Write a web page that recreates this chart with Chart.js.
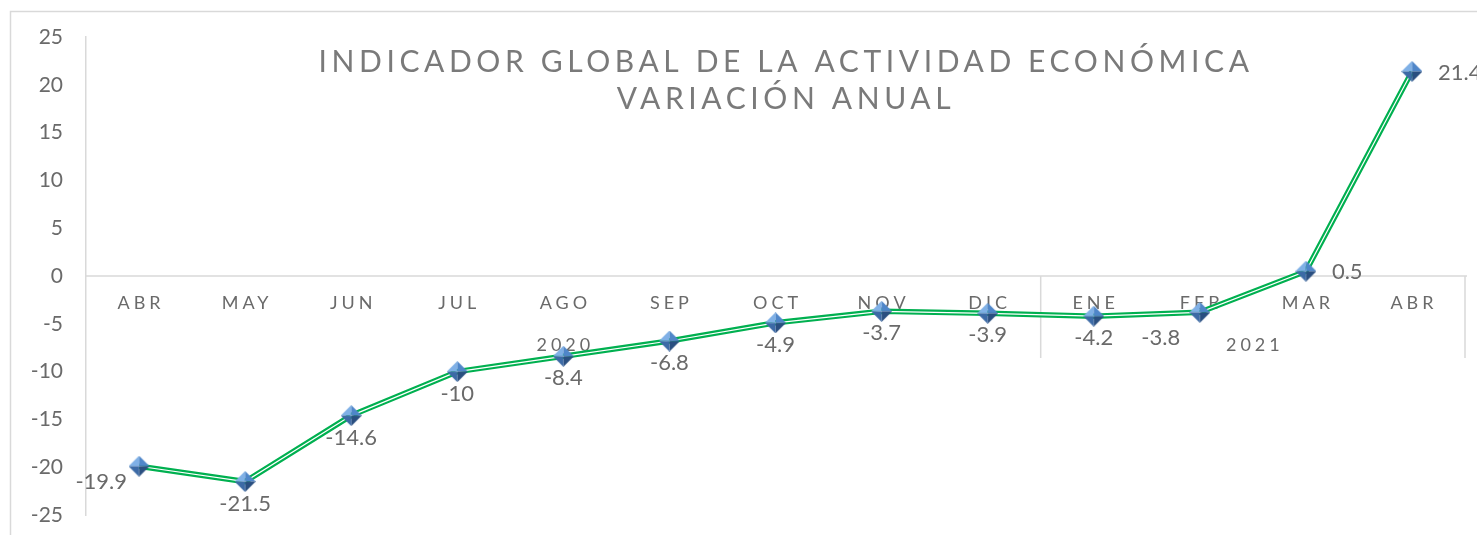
<!DOCTYPE html>
<html>
<head>
<meta charset="utf-8">
<script src="https://cdn.jsdelivr.net/npm/chart.js@4.4.1/dist/chart.umd.min.js"></script>
<style>
  html, body { margin: 0; padding: 0; background: #fff; }
  #wrap { width: 1477px; height: 535px; }
</style>
</head>
<body>
<div id="wrap"><canvas id="chart" width="1477" height="535"></canvas></div>
<script>
// data
const months = ['ABR', 'MAY', 'JUN', 'JUL', 'AGO', 'SEP', 'OCT', 'NOV', 'DIC', 'ENE', 'FEB', 'MAR', 'ABR'];
const years = ['2020', '2021'];
const yearSpans = [9, 4]; // months in each year group
const values = [-19.9, -21.5, -14.6, -10, -8.4, -6.8, -4.9, -3.7, -3.9, -4.2, -3.8, 0.5, 21.4];
const titleLines = ['INDICADOR GLOBAL DE LA ACTIVIDAD ECONÓMICA', 'VARIACIÓN ANUAL'];

const GRAY = '#6a6a6a';
const AXIS = '#d9d9d9';

// bevelled blue diamond marker
function makeDiamond(size) {
    const c = document.createElement('canvas');
    c.width = size; c.height = size;
    const g = c.getContext('2d');
    const m = size / 2;
    const tri = (x1, y1, x2, y2, col) => {
        g.beginPath();
        g.moveTo(m, m); g.lineTo(x1, y1); g.lineTo(x2, y2); g.closePath();
        g.fillStyle = col; g.fill();
    };
    tri(0, m, m, 0, '#7fb0e6');       // top-left
    tri(m, 0, size, m, '#4f86c9');    // top-right
    tri(size, m, m, size, '#2a4f80'); // bottom-right
    tri(m, size, 0, m, '#3c6aa6');    // bottom-left
    return c;
}
const diamond = makeDiamond(21);

// label placement per point (Excel style)
const labelPlace = ['left', 'below', 'below', 'below', 'below', 'below', 'below', 'below', 'below', 'below', 'leftbelow', 'right', 'right'];

const decorPlugin = {
    id: 'decor',
    beforeDraw(chart) {
        const ctx = chart.ctx;
        ctx.save();
        ctx.strokeStyle = AXIS;
        ctx.lineWidth = 1.5;
        ctx.strokeRect(10.5, 11.5, 1500, 600);
        ctx.restore();
    },
    beforeDatasetsDraw(chart) {
        const ctx = chart.ctx;
        const x = chart.scales.x, y = chart.scales.y;
        const y0 = y.getPixelForValue(0);
        const area = chart.chartArea;
        const step = x.getPixelForValue(1) - x.getPixelForValue(0);
        ctx.save();
        // category axis line
        ctx.strokeStyle = AXIS;
        ctx.lineWidth = 1.5;
        ctx.beginPath();
        ctx.moveTo(area.left, y0); ctx.lineTo(area.right + 2, y0);
        // group separators
        let idx = 0;
        yearSpans.forEach(span => {
            idx += span;
            const sx = x.getPixelForValue(idx - 1) + step / 2;
            ctx.moveTo(sx, y0); ctx.lineTo(sx, y0 + 82);
        });
        ctx.stroke();

        // month labels
        ctx.fillStyle = GRAY;
        ctx.textAlign = 'center';
        ctx.textBaseline = 'middle';
        ctx.font = '18px Lato';
        ctx.letterSpacing = '4px';
        months.forEach((m, i) => {
            ctx.fillText(m, x.getPixelForValue(i) + 2, y0 + 27);
        });
        // year labels
        ctx.font = '18px Lato';
        ctx.letterSpacing = '4px';
        let start = 0;
        years.forEach((yr, k) => {
            const end = start + yearSpans[k] - 1;
            const cx = (x.getPixelForValue(start) + x.getPixelForValue(end)) / 2;
            ctx.fillText(yr, cx + 2, y0 + 69);
            start = end + 1;
        });

        // title
        ctx.font = '30px Lato';
        ctx.letterSpacing = '4.6px';
        ctx.fillStyle = '#7a7a7a';
        ctx.fillText(titleLines[0], 786, 62);
        ctx.fillText(titleLines[1], 786, 99);
        ctx.restore();
    },
    afterDatasetsDraw(chart) {
        const ctx = chart.ctx;
        const meta = chart.getDatasetMeta(2);
        ctx.save();
        ctx.fillStyle = GRAY;
        ctx.font = '22px Lato';
        ctx.textBaseline = 'middle';
        meta.data.forEach((pt, i) => {
            const txt = String(values[i]);
            const p = labelPlace[i];
            if (p === 'below') {
                ctx.textAlign = 'center';
                ctx.fillText(txt, pt.x, pt.y + 22);
            } else if (p === 'left') {
                ctx.textAlign = 'right';
                ctx.fillText(txt, pt.x - 12, pt.y + 16);
            } else if (p === 'leftbelow') {
                ctx.textAlign = 'center';
                ctx.fillText(txt, pt.x - 39, pt.y + 26);
            } else {
                ctx.textAlign = 'left';
                ctx.fillText(txt, pt.x + 26, pt.y + 1);
            }
        });
        ctx.restore();
    }
};

new Chart(document.getElementById('chart'), {
    type: 'line',
    data: {
        labels: months,
        datasets: [
            { data: values, borderColor: '#00b050', borderWidth: 5.5, pointRadius: 0, tension: 0, order: 3 },
            { data: values, borderColor: '#ffffff', borderWidth: 1.2, pointRadius: 0, tension: 0, order: 2 },
            { data: values, showLine: false, pointStyle: diamond, pointRadius: 11, order: 1 }
        ]
    },
    options: {
        responsive: false,
        animation: false,
        events: [],
        layout: { padding: { top: 37, bottom: 20, right: 9, left: 0 } },
        plugins: { legend: { display: false }, title: { display: false }, tooltip: { enabled: false } },
        scales: {
            x: {
                display: false,
                offset: true
            },
            y: {
                min: -25, max: 25,
                afterFit: s => { s.width = 86; s.paddingTop = 0; s.paddingBottom = 0; },
                ticks: { stepSize: 5, color: GRAY, font: { family: 'Lato', size: 21 }, padding: 23 },
                grid: { display: false, drawTicks: false },
                border: { display: true, color: AXIS, width: 1.5 }
            }
        }
    },
    plugins: [decorPlugin]
});
</script>
</body>
</html>
